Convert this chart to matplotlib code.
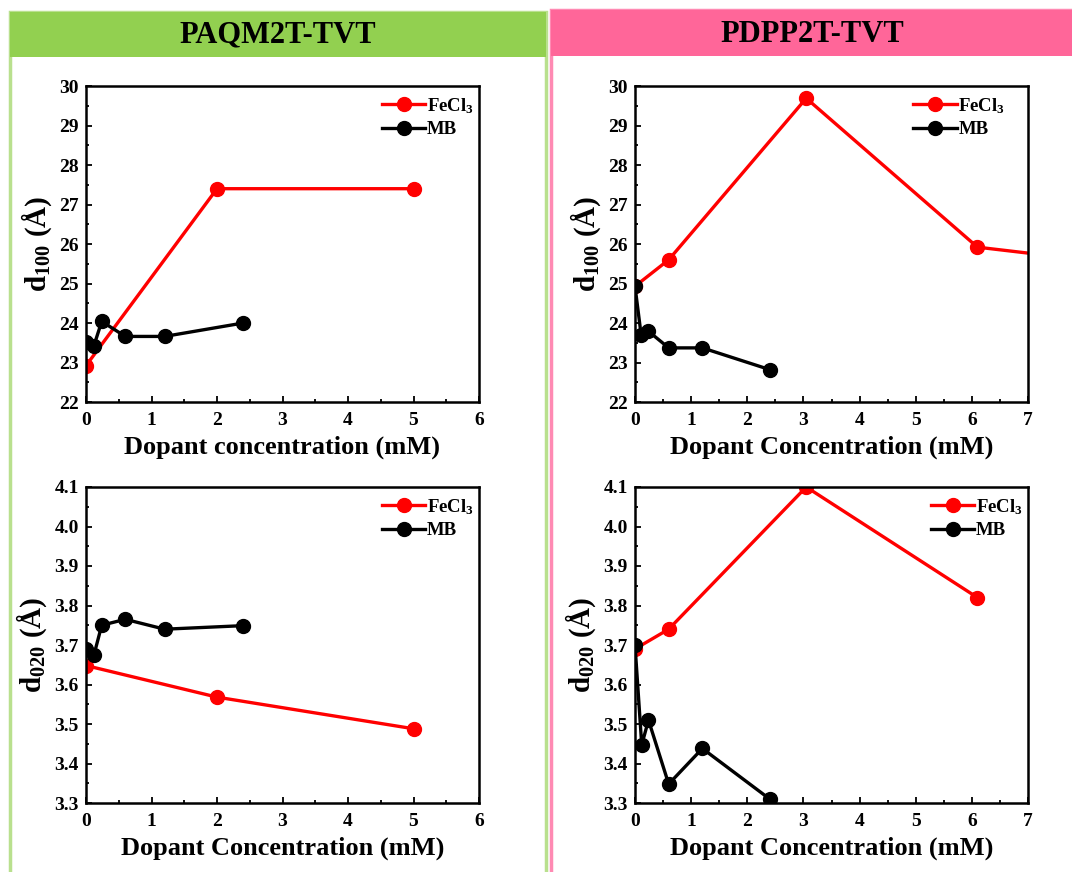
import numpy as np
import matplotlib
matplotlib.use("Agg")
import matplotlib.pyplot as plt
from matplotlib.patches import Rectangle
from matplotlib.ticker import MultipleLocator, FuncFormatter

plt.rcParams["font.family"] = ["Liberation Serif", "DejaVu Serif"]
plt.rcParams["font.weight"] = "bold"
plt.rcParams["mathtext.fontset"] = "custom"
plt.rcParams["mathtext.rm"] = "Liberation Serif:bold"
plt.rcParams["mathtext.it"] = "Liberation Serif:bold"
plt.rcParams["mathtext.bf"] = "Liberation Serif:bold"

# panel titles
titles = ["PAQM2T-TVT", "PDPP2T-TVT"]

# PAQM2T-TVT, d100
paqm_d100_fe_x = [0, 2, 5]
paqm_d100_fe_y = [22.92, 27.4, 27.4]
paqm_d100_mb_x = [0, 0.12, 0.24, 0.6, 1.2, 2.4]
paqm_d100_mb_y = [23.53, 23.42, 24.04, 23.66, 23.66, 24.0]

# PAQM2T-TVT, d020
paqm_d020_fe_x = [0, 2, 5]
paqm_d020_fe_y = [3.648, 3.568, 3.488]
paqm_d020_mb_x = [0, 0.12, 0.24, 0.6, 1.2, 2.4]
paqm_d020_mb_y = [3.691, 3.674, 3.75, 3.765, 3.74, 3.749]

# PDPP2T-TVT, d100 (last FeCl3 point lies beyond the axis range)
pdpp_d100_fe_x = [0, 0.6, 3.05, 6.1, 12.2]
pdpp_d100_fe_y = [24.93, 25.6, 29.69, 25.92, 24.9]
pdpp_d100_mb_x = [0, 0.11, 0.24, 0.6, 1.2, 2.4]
pdpp_d100_mb_y = [24.93, 23.69, 23.79, 23.37, 23.37, 22.82]

# PDPP2T-TVT, d020
pdpp_d020_fe_x = [0, 0.6, 3.05, 6.1]
pdpp_d020_fe_y = [3.69, 3.74, 4.1, 3.82]
pdpp_d020_mb_x = [0, 0.12, 0.24, 0.6, 1.2, 2.4]
pdpp_d020_mb_y = [3.70, 3.447, 3.51, 3.348, 3.438, 3.31]

fig = plt.figure(figsize=(10.72, 8.72), dpi=100)

# coloured headers and frames (pixel coordinates of the picture)
W, H = 1072.0, 872.0
def rect(x0, y0, x1, y1, **kw):
    fig.patches.append(Rectangle((x0 / W, 1 - y1 / H), (x1 - x0) / W, (y1 - y0) / H,
                                 transform=fig.transFigure, **kw))

rect(10, 12, 546, 880, fill=False, edgecolor="#b9e08e", linewidth=2.5)
rect(10, 12, 546, 57, facecolor="#92d050", edgecolor="none")
rect(551, 10, 1080, 880, fill=False, edgecolor="#ff8ab3", linewidth=2.5)
rect(551, 10, 1080, 56, facecolor="#ff6699", edgecolor="none")
fig.text(278 / W, 1 - 35 / H, titles[0], ha="center", va="center", fontsize=22, fontweight="bold")
fig.text(812 / W, 1 - 34 / H, titles[1], ha="center", va="center", fontsize=22, fontweight="bold")

panels = [
    # left, top, data, xmax, ylim, y major, y minor, ylabel, xlabel, legend x, tick format
    (86, 86, paqm_d100_fe_x, paqm_d100_fe_y, paqm_d100_mb_x, paqm_d100_mb_y,
     6, (22, 30), 1, 0.5, "d$_{100}$ (Å)", "Dopant concentration (mM)", 0.72, "{:.0f}"),
    (635, 86, pdpp_d100_fe_x, pdpp_d100_fe_y, pdpp_d100_mb_x, pdpp_d100_mb_y,
     7, (22, 30), 1, 0.5, "d$_{100}$ (Å)", "Dopant Concentration (mM)", 0.675, "{:.0f}"),
    (86, 487, paqm_d020_fe_x, paqm_d020_fe_y, paqm_d020_mb_x, paqm_d020_mb_y,
     6, (3.3, 4.1), 0.1, 0.05, "d$_{020}$ (Å)", "Dopant Concentration (mM)", 0.72, "{:.1f}"),
    (635, 487, pdpp_d020_fe_x, pdpp_d020_fe_y, pdpp_d020_mb_x, pdpp_d020_mb_y,
     7, (3.3, 4.1), 0.1, 0.05, "d$_{020}$ (Å)", "Dopant Concentration (mM)", 0.72, "{:.1f}"),
]

for (lx, ty, fx, fy, mx, my, xmax, ylim, ymaj, ymin, ylab, xlab, legx, fmt) in panels:
    ax = fig.add_axes([lx / W, 1 - (ty + 316) / H, 393 / W, 316 / H])
    ax.plot(fx, fy, color="#ff0000", lw=2.4, marker="o", ms=10, label="FeCl$_3$")
    ax.plot(mx, my, color="black", lw=2.4, marker="o", ms=10, label="MB")
    ax.set_xlim(0, xmax)
    ax.set_ylim(*ylim)
    ax.xaxis.set_major_locator(MultipleLocator(1))
    ax.xaxis.set_minor_locator(MultipleLocator(0.5))
    ax.yaxis.set_major_locator(MultipleLocator(ymaj))
    ax.yaxis.set_minor_locator(MultipleLocator(ymin))
    ax.yaxis.set_major_formatter(FuncFormatter(lambda v, p, f=fmt: f.format(v)))
    ax.tick_params(which="both", direction="in", top=False, right=False, width=1.3)
    ax.tick_params(which="major", length=4.5, labelsize=14, pad=5)
    ax.tick_params(axis="x", which="major", pad=7)
    ax.tick_params(which="minor", length=2.5)
    for lbl in ax.get_xticklabels() + ax.get_yticklabels():
        lbl.set_fontweight("bold")
    for s in ax.spines.values():
        s.set_linewidth(1.8)
    ax.set_xlabel(xlab, fontsize=19, fontweight="bold", labelpad=5)
    ax.set_ylabel(ylab, fontsize=21, fontweight="bold", labelpad=4)
    ax.legend(loc="upper left", bbox_to_anchor=(legx, 1.01), frameon=False,
              fontsize=13.5, handlelength=2.3, handletextpad=0.1,
              labelspacing=0.3, borderaxespad=0.3)

fig.savefig("out.png", dpi=100)
